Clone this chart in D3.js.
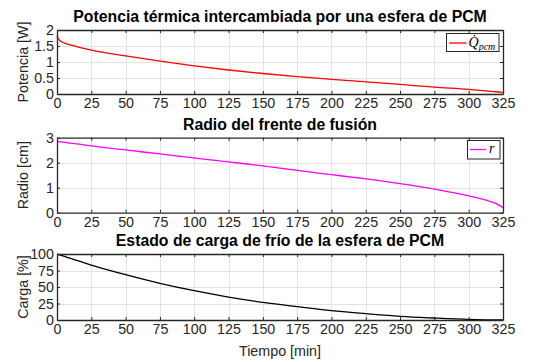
<!DOCTYPE html>
<html>
<head>
<meta charset="utf-8">
<script src="https://cdn.jsdelivr.net/npm/d3@7"></script>
<style>
  body { margin: 0; background: #fff; }
  svg { display: block; font-family: "Liberation Sans", Arial, sans-serif; }
  .tick text { fill: #262626; }
</style>
</head>
<body>
<div id="container"></div>
<script>
// tiempo [min]
const tiempo   = [0, 1, 3, 6, 10, 15, 25, 50, 75, 100, 125, 150, 175, 200, 225, 250, 275, 300, 312.5, 320, 325];
// potencia [W]
const potencia = [1.82, 1.72, 1.64, 1.58, 1.53, 1.47, 1.37, 1.19, 1.03, 0.88, 0.75, 0.64, 0.54, 0.46, 0.38, 0.30, 0.215, 0.145, 0.10, 0.07, 0.04];
// radio [cm]
const radio    = [2.85, 2.84, 2.83, 2.81, 2.78, 2.75, 2.67, 2.51, 2.35, 2.19, 2.03, 1.87, 1.69, 1.52, 1.35, 1.16, 0.94, 0.67, 0.50, 0.36, 0.20];
// carga [%]
const carga    = [100, 99.3, 97.9, 95.9, 93.2, 89.9, 83.3, 68.7, 55.6, 44.4, 34.8, 26.8, 20.2, 14.1, 9.6, 5.6, 3.0, 0.9, 0.3, 0.1, 0];

const xTicks = [0, 25, 50, 75, 100, 125, 150, 175, 200, 225, 250, 275, 300, 325];
const yTicks1 = [0, 0.5, 1, 1.5, 2];
const yTicks2 = [0, 1, 2, 3];
const yTicks3 = [0, 25, 50, 75, 100];

const titulos = ["Potencia térmica intercambiada por una esfera de PCM",
                 "Radio del frente de fusión",
                 "Estado de carga de frío de la esfera de PCM"];
const etiquetasY = ["Potencia [W]", "Radio [cm]", "Carga [%]"];

const w = 537, h = 362;
const left = 57, right = 503;
const axisColor = "#262626";
const gridColor = "#e3e3e3";
const fs = "14.3px";

const svg = d3.select("#container").append("svg")
  .attr("width", w).attr("height", h);

const x = d3.scaleLinear().domain([0, 325]).range([left, right]);

const panels = [
  { top: 30, bottom: 94, ymax: 2, ticks: yTicks1, data: potencia, color: "#ff0000", legend: "Q" },
  { top: 137.7, bottom: 212.7, ymax: 3, ticks: yTicks2, data: radio, color: "#ff00ff", legend: "r" },
  { top: 254, bottom: 320, ymax: 100, ticks: yTicks3, data: carga, color: "#000000", legend: null }
];

panels.forEach((p, i) => {
  const y = d3.scaleLinear().domain([0, p.ymax]).range([p.bottom, p.top]);
  const g = svg.append("g");

  // grid
  g.append("g").selectAll("line").data(xTicks.slice(1, -1)).enter().append("line")
    .attr("x1", d => Math.round(x(d)) + 0.5).attr("x2", d => Math.round(x(d)) + 0.5)
    .attr("y1", p.top).attr("y2", p.bottom)
    .attr("stroke", gridColor).attr("stroke-width", 1);
  g.append("g").selectAll("line").data(p.ticks.slice(1, -1)).enter().append("line")
    .attr("y1", d => Math.round(y(d)) + 0.5).attr("y2", d => Math.round(y(d)) + 0.5)
    .attr("x1", left).attr("x2", right)
    .attr("stroke", gridColor).attr("stroke-width", 1);

  // data line
  const line = d3.line()
    .x((d, k) => x(tiempo[k]))
    .y(d => y(d))
    .curve(d3.curveMonotoneX);
  g.append("path").datum(p.data)
    .attr("d", line)
    .attr("fill", "none")
    .attr("stroke", p.color)
    .attr("stroke-width", 1.3);

  // axes (ticks inside, box on)
  const xb = g.append("g").attr("transform", `translate(0,${p.bottom})`)
    .call(d3.axisBottom(x).tickValues(xTicks).tickSizeInner(-3).tickSizeOuter(0).tickPadding(4));
  const xt = g.append("g").attr("transform", `translate(0,${p.top})`)
    .call(d3.axisTop(x).tickValues(xTicks).tickSizeInner(-3).tickSizeOuter(0).tickFormat(""));
  const yl = g.append("g").attr("transform", `translate(${left},0)`)
    .call(d3.axisLeft(y).tickValues(p.ticks).tickSizeInner(-3).tickSizeOuter(0).tickPadding(3).tickFormat(d => String(d)));
  const yr = g.append("g").attr("transform", `translate(${right},0)`)
    .call(d3.axisRight(y).tickValues(p.ticks).tickSizeInner(-3).tickSizeOuter(0).tickFormat(""));
  [xb, xt, yl, yr].forEach(a => {
    a.select(".domain").attr("stroke", axisColor).attr("stroke-width", 1.3);
    a.selectAll(".tick line").attr("stroke", axisColor).attr("stroke-width", 1);
    a.selectAll(".tick text").style("font-size", fs).style("font-family", "'Liberation Sans', Arial, sans-serif");
  });

  // title
  g.append("text")
    .attr("x", (left + right) / 2).attr("y", p.top - 8)
    .attr("text-anchor", "middle")
    .style("font-weight", "bold").style("font-size", "15.8px")
    .attr("fill", "#000")
    .text(titulos[i]);

  // y label
  g.append("text")
    .attr("transform", `translate(28,${(p.top + p.bottom) / 2}) rotate(-90)`)
    .attr("text-anchor", "middle")
    .style("font-size", fs)
    .attr("fill", axisColor)
    .text(etiquetasY[i]);

  // legend
  if (p.legend === "Q") {
    const lg = g.append("g");
    lg.append("rect").attr("x", 446.5).attr("y", 33.5).attr("width", 52.5).attr("height", 18)
      .attr("fill", "#fff").attr("stroke", axisColor).attr("stroke-width", 1);
    lg.append("line").attr("x1", 449).attr("x2", 466.5).attr("y1", 43).attr("y2", 43)
      .attr("stroke", p.color).attr("stroke-width", 1.3);
    const t = lg.append("text").attr("x", 468.5).attr("y", 47)
      .style("font-family", "'Liberation Serif', 'DejaVu Serif', serif")
      .style("font-style", "italic").attr("fill", "#000");
    t.append("tspan").style("font-size", "14px").text("Q");
    t.append("tspan").attr("dy", 2.5).style("font-size", "10px").text("pcm");
    lg.append("circle").attr("cx", 474.5).attr("cy", 35.8).attr("r", 0.8).attr("fill", "#000");
  } else if (p.legend === "r") {
    const lg = g.append("g");
    lg.append("rect").attr("x", 467.5).attr("y", 140.5).attr("width", 32.5).attr("height", 18.5)
      .attr("fill", "#fff").attr("stroke", axisColor).attr("stroke-width", 1);
    lg.append("line").attr("x1", 470).attr("x2", 486).attr("y1", 149.5).attr("y2", 149.5)
      .attr("stroke", p.color).attr("stroke-width", 1.3);
    lg.append("text").attr("x", 489).attr("y", 153)
      .style("font-family", "'Liberation Serif', 'DejaVu Serif', serif")
      .style("font-style", "italic").style("font-size", "14px").attr("fill", "#000")
      .text("r");
  }
});

// x label
svg.append("text")
  .attr("x", (left + right) / 2).attr("y", 356)
  .attr("text-anchor", "middle")
  .style("font-size", fs)
  .attr("fill", axisColor)
  .text("Tiempo [min]");
</script>
</body>
</html>
